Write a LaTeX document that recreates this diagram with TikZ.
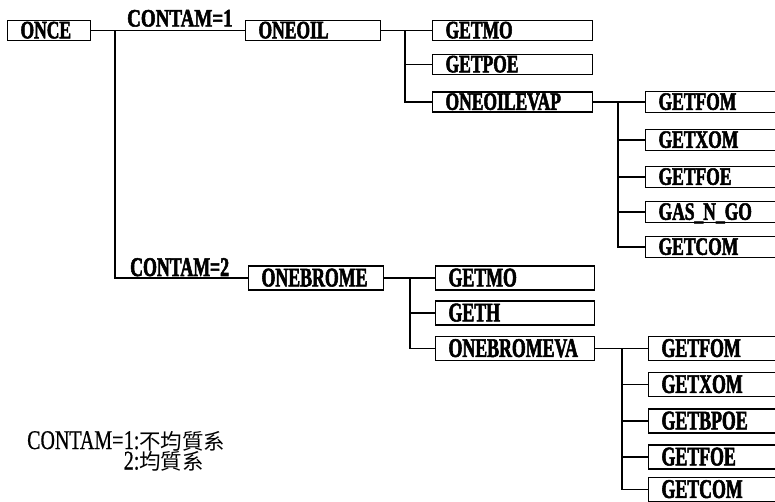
\documentclass[tikz,border=0pt]{standalone}
\usepackage{fontspec}
\newfontfamily\boxfont{Liberation Serif}[FakeStretch=0.7, FakeBold=2]
\newfontfamily\boxfontb{Liberation Serif}[FakeStretch=0.66, FakeBold=2]
\newfontfamily\labfont{Liberation Serif}[FakeStretch=0.76, FakeBold=2]
\newfontfamily\legfont{Liberation Serif}[FakeStretch=0.74, FakeBold=0.6]
\newfontfamily\cjkfont{Noto Sans CJK TC}
\newcommand\bt[2]{\makebox[#1][l]{#2}}
\begin{document}
\begin{tikzpicture}[x=1pt,y=-1pt,
  bx/.style={draw, line width=1.1pt, anchor=west, inner xsep=13pt, inner ysep=0pt, text depth=0.8pt},
  g1/.style={bx, font=\boxfont\bfseries\fontsize{25pt}{25pt}\selectfont, minimum height=20pt, text height=16.4pt},
  g1c/.style={bx, font=\boxfont\bfseries\fontsize{25pt}{25pt}\selectfont, minimum height=21pt, text height=16.4pt},
  g2/.style={bx, font=\boxfontb\bfseries\fontsize{27pt}{27pt}\selectfont, minimum height=24pt, text height=17.7pt},
  lbl/.style={inner sep=0pt, anchor=base west},
  leg/.style={lbl, text height=16pt, text depth=1.5pt, font=\legfont\fontsize{27pt}{27pt}\selectfont},
  con/.style={line width=1.3pt}
]
\useasboundingbox (0,0) rectangle (775,502);
\clip (0,0) rectangle (775,502);
% ---- level 0 / 1
\node[g1] (once) at (7,30.5) {\bt{57pt}{ONCE}};
\node[g1] (oneoil) at (245,30.5) {\bt{109pt}{ONEOIL}};
\node[g2] (onebrome) at (248,278) {\bt{109pt}{ONEBROME}};
\coordinate (t0) at (115,30.5);
\draw[con] (once.east) -- (oneoil.west);
\draw[con] (t0) |- (onebrome.west);
\node[lbl, font=\labfont\bfseries\fontsize{25pt}{25pt}\selectfont] (c1) at (127,26.5) {CONTAM=1};
\node[lbl, font=\boxfontb\bfseries\fontsize{27pt}{27pt}\selectfont] (c2) at (130,276) {CONTAM=2};
% ---- group 1 level 2
\node[g1] (a1) at (432,30.5) {\bt{134pt}{GETMO}};
\node[g1] (a2) at (432,64.5) {\bt{134pt}{GETPOE}};
\node[g1] (a3) at (432,102) {\bt{134pt}{ONEOILEVAP}};
\coordinate (v1) at (405,30.5);
\draw[con] (oneoil.east) -- (a1.west);
\draw[con] (v1) |- (a2.west);
\draw[con] (v1) |- (a3.west);
% ---- group 1 level 3
\node[g1c] (b1) at (645,102) {\bt{140pt}{GETFOM}};
\node[g1c] (b2) at (645,140) {\bt{140pt}{GETXOM}};
\node[g1c] (b3) at (645,177) {\bt{140pt}{GETFOE}};
\node[g1c] (b4) at (645,212) {\bt{140pt}{GAS\_N\_GO}};
\node[g1c] (b5) at (645,247) {\bt{140pt}{GETCOM}};
\coordinate (v2) at (618,102);
\draw[con] (a3.east) -- (b1.west);
\foreach \n in {b2,b3,b4,b5} \draw[con] (v2) |- (\n.west);
% ---- group 2 level 2
\node[g2] (d1) at (435,278) {\bt{133pt}{GETMO}};
\node[g2] (d2) at (435,313) {\bt{133pt}{GETH}};
\node[g2] (d3) at (435,348.5) {\bt{133pt}{ONEBROMEVA}};
\coordinate (v3) at (410,278);
\draw[con] (onebrome.east) -- (d1.west);
\draw[con] (v3) |- (d2.west);
\draw[con] (v3) |- (d3.west);
% ---- group 2 level 3
\node[g2] (e1) at (648,348.5) {\bt{140pt}{GETFOM}};
\node[g2] (e2) at (648,384.5) {\bt{140pt}{GETXOM}};
\node[g2] (e3) at (648,421) {\bt{140pt}{GETBPOE}};
\node[g2] (e4) at (648,457) {\bt{140pt}{GETFOE}};
\node[g2] (e5) at (648,489.5) {\bt{140pt}{GETCOM}};
\coordinate (v4) at (622,348.5);
\draw[con] (d3.east) -- (e1.west);
\foreach \n in {e2,e3,e4,e5} \draw[con] (v4) |- (\n.west);
% ---- legend
\node[leg] (leg0) at (27,449) {CONTAM=};
\node[leg] (leg1) at (leg0.base east)
  {1:{\cjkfont\fontsize{21.5pt}{21.5pt}\selectfont 不均質系}};
\node[leg, yshift=-20.5pt] (leg2) at (leg1.base west)
  {2:{\cjkfont\fontsize{21.5pt}{21.5pt}\selectfont 均質系}};
\end{tikzpicture}
\end{document}
